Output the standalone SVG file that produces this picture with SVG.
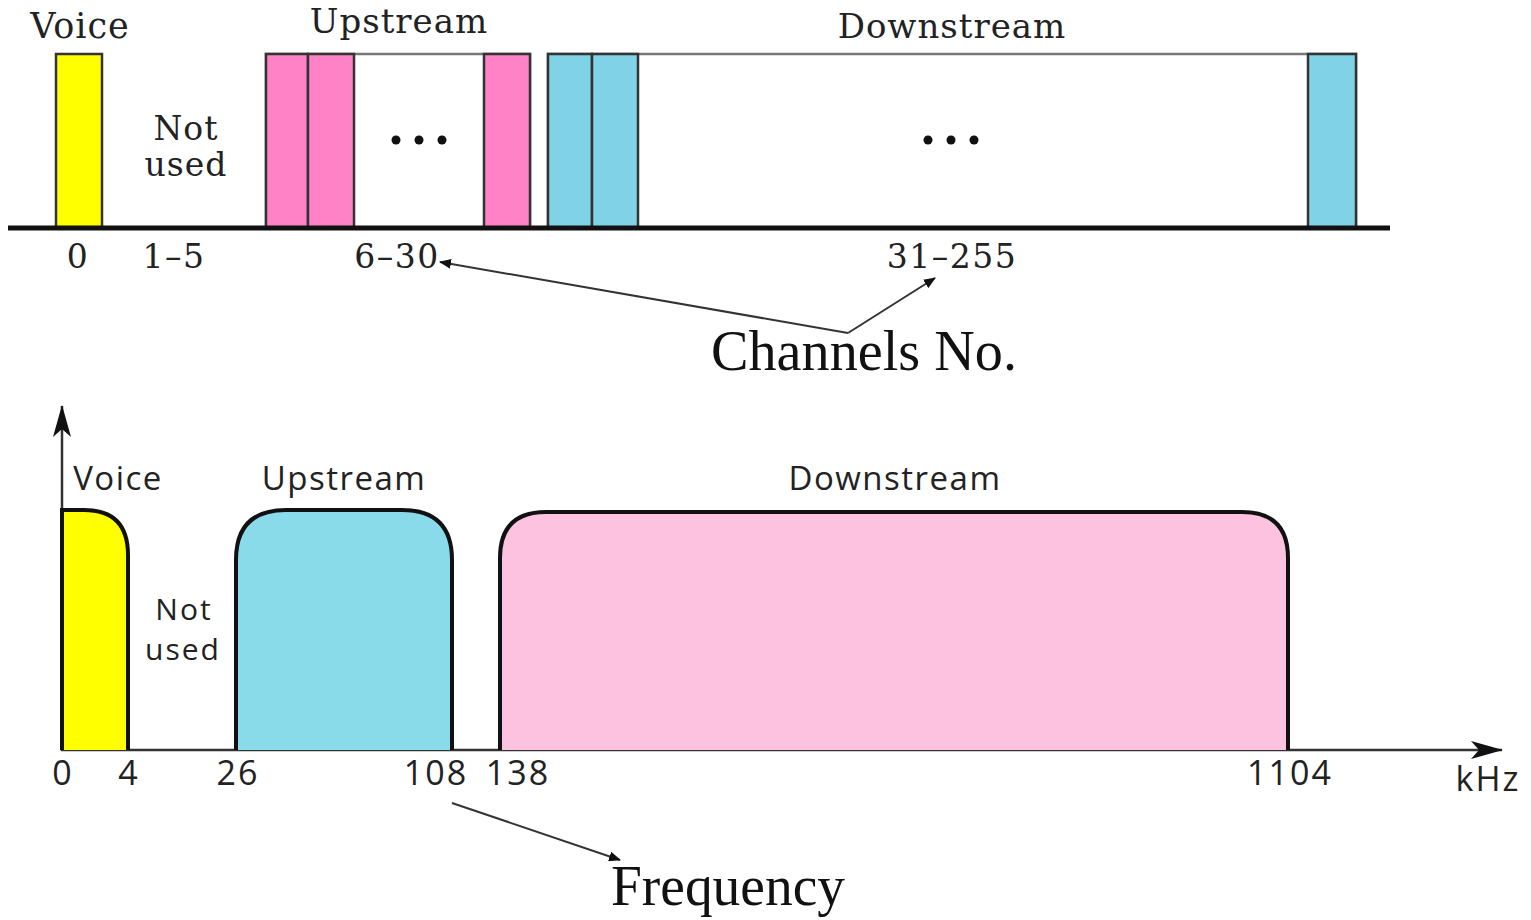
<svg xmlns="http://www.w3.org/2000/svg" width="1531" height="920" viewBox="0 0 1531 920">
<style>
.serif{font-family:"DejaVu Serif","Liberation Serif",serif;fill:#222;text-anchor:middle}
.tick{font-family:"DejaVu Serif","Liberation Serif",serif;fill:#222;text-anchor:middle;font-size:33px;letter-spacing:1.5px}
.times{font-family:"Liberation Serif","Times New Roman",serif;fill:#111;text-anchor:middle}
.sans{font-family:"Open Sans","Noto Sans","Liberation Sans",sans-serif;fill:#222;text-anchor:middle;font-size:33px;letter-spacing:1.5px}
.num{font-family:"Open Sans","Noto Sans","Liberation Sans",sans-serif;fill:#222;text-anchor:middle;font-size:34px;letter-spacing:2px}
.bar{stroke:#333;stroke-width:2.5}
.box{fill:#fff;stroke:#777;stroke-width:2.5}
.band{stroke:#111;stroke-width:4}
.conn{stroke:#333;stroke-width:2;fill:none}
.axis{stroke:#333;stroke-width:2.5;fill:none}
</style>
<defs>
<marker id="small" viewBox="0 0 12 10" refX="11" refY="5" markerWidth="12" markerHeight="10" markerUnits="userSpaceOnUse" orient="auto">
<path d="M0,0 L12,5 L0,10 Z" fill="#111"/>
</marker>
<marker id="big" viewBox="0 0 32 18" refX="31" refY="9" markerWidth="32" markerHeight="18" markerUnits="userSpaceOnUse" orient="auto">
<path d="M0,0 L32,9 L0,18 L8,9 Z" fill="#111"/>
</marker>
</defs>
<rect width="1531" height="920" fill="#fff"/>

<g id="top-voice">
<text class="serif" x="80" y="38" font-size="35" letter-spacing="1">Voice</text>
<rect class="bar" x="56" y="54" width="46" height="174" fill="#ffff00"/>
<text class="tick" x="78" y="268">0</text>
</g>
<g id="top-notused">
<text class="serif" x="186" y="140" font-size="33" letter-spacing="1">Not</text>
<text class="serif" x="186" y="176" font-size="33" letter-spacing="1">used</text>
<text class="tick" x="174" y="268">1–5</text>
</g>
<g id="top-upstream">
<text class="serif" x="399" y="33" font-size="34" letter-spacing="1">Upstream</text>
<rect class="box" x="266" y="54" width="264" height="174"/>
<rect class="bar" x="266" y="54" width="42" height="174" fill="#ff82c6"/>
<rect class="bar" x="308" y="54" width="46" height="174" fill="#ff82c6"/>
<rect class="bar" x="484" y="54" width="46" height="174" fill="#ff82c6"/>
<circle cx="396" cy="140" r="4.5" fill="#111"/><circle cx="419" cy="140" r="4.5" fill="#111"/><circle cx="442" cy="140" r="4.5" fill="#111"/>
<text class="tick" x="397" y="268">6–30</text>
</g>
<g id="top-downstream">
<text class="serif" x="952" y="38" font-size="34" letter-spacing="1">Downstream</text>
<rect class="box" x="548" y="54" width="808" height="174"/>
<rect class="bar" x="548" y="54" width="44" height="174" fill="#80d2e6"/>
<rect class="bar" x="592" y="54" width="46" height="174" fill="#80d2e6"/>
<rect class="bar" x="1308" y="54" width="48" height="174" fill="#80d2e6"/>
<circle cx="928" cy="140" r="4.5" fill="#111"/><circle cx="951" cy="140" r="4.5" fill="#111"/><circle cx="974" cy="140" r="4.5" fill="#111"/>
<text class="tick" x="952" y="268">31–255</text>
</g>
<g id="top-axis">
<line x1="8" y1="228" x2="1390" y2="228" stroke="#111" stroke-width="5"/>
</g>
<g id="channels-label">
<text class="times" x="864" y="370" font-size="58" textLength="306" lengthAdjust="spacingAndGlyphs">Channels No.</text>
</g>

<g id="bottom-axes">
<line class="axis" x1="62" y1="751" x2="62" y2="406" marker-end="url(#big)"/>
<line class="axis" x1="61" y1="750" x2="1502" y2="750" marker-end="url(#big)"/>
<text class="num" x="1488" y="791" font-size="31">kHz</text>
</g>
<g id="bottom-voice">
<text class="sans" x="118" y="490">Voice</text>
<path class="band" d="M62,750 V510 H84 Q128,510 128,555 V750" fill="#ffff00"/>
<text class="num" x="63" y="785">0</text>
<text class="num" x="129" y="785">4</text>
</g>
<g id="bottom-notused">
<text class="sans" x="184" y="620" style="font-size:30px;letter-spacing:2px">Not</text>
<text class="sans" x="183" y="660" style="font-size:30px;letter-spacing:2px">used</text>
</g>
<g id="bottom-upstream">
<text class="sans" x="344" y="490">Upstream</text>
<path class="band" d="M236,750 V560 Q236,510 286,510 H402 Q452,510 452,560 V750" fill="#8adbe9"/>
<text class="num" x="238" y="785">26</text>
<text class="num" x="436" y="785">108</text>
</g>
<g id="bottom-downstream">
<text class="sans" x="895" y="490">Downstream</text>
<path class="band" d="M500,750 V558 Q500,512 546,512 H1242 Q1288,512 1288,558 V750" fill="#fcc2e0"/>
<text class="num" x="518" y="785">138</text>
<text class="num" x="1290" y="785">1104</text>
</g>
<g id="frequency-label">
<text class="times" x="728" y="905" font-size="56" textLength="234" lengthAdjust="spacingAndGlyphs">Frequency</text>
</g>

<g id="connectors">
<polyline class="conn" points="848,333 440,262" marker-end="url(#small)"/>
<polyline class="conn" points="848,333 935,278" marker-end="url(#small)"/>
<line class="conn" x1="452" y1="803" x2="620" y2="860" marker-end="url(#small)"/>
</g>
</svg>
